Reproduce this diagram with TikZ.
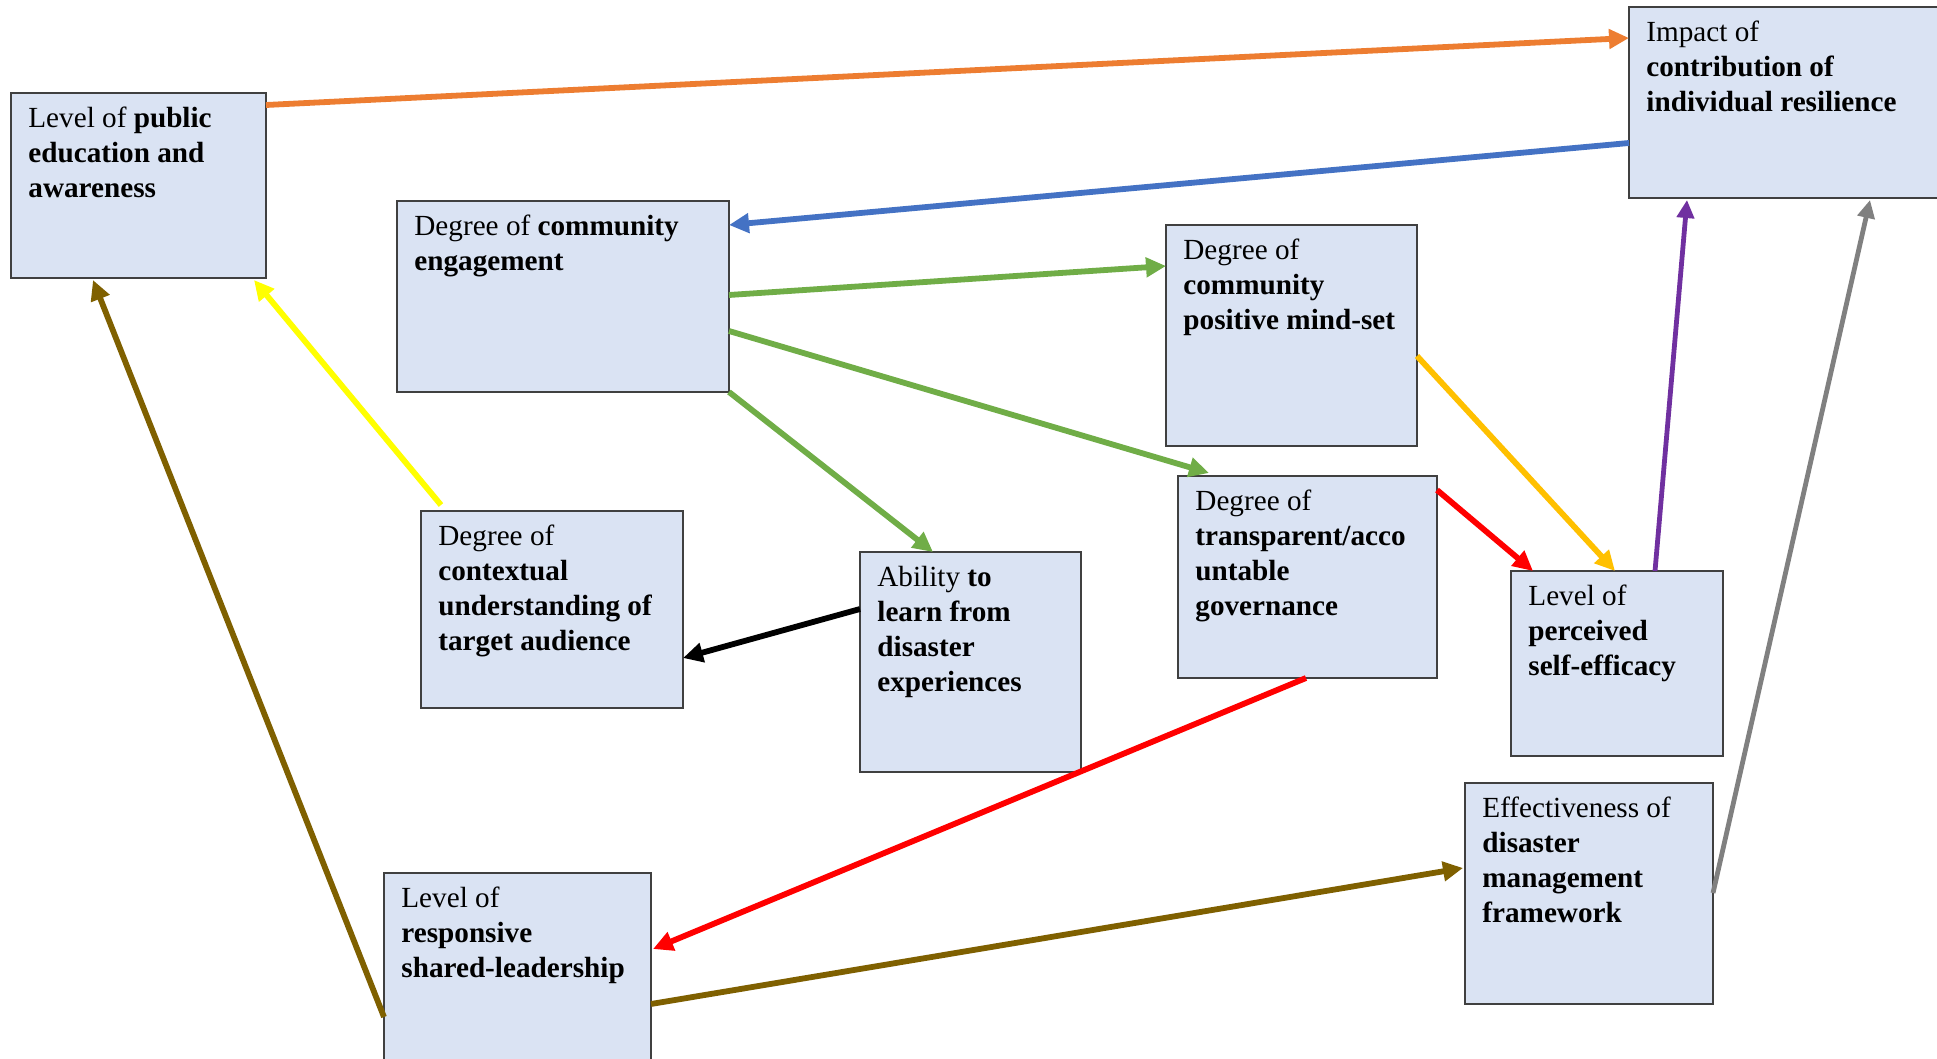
\documentclass[tikz,border=0pt]{standalone}
\usepackage{fontspec}
\setmainfont{Liberation Serif}
\usetikzlibrary{calc,arrows.meta}
\definecolor{boxfill}{HTML}{DAE3F3}
\definecolor{boxline}{HTML}{404040}
\definecolor{corange}{HTML}{ED7D31}
\definecolor{cblue}{HTML}{4472C4}
\definecolor{cgreen}{HTML}{70AD47}
\definecolor{cyellow}{HTML}{FFFF00}
\definecolor{cbrown}{HTML}{7F6000}
\definecolor{cgold}{HTML}{FFC000}
\definecolor{cred}{HTML}{FF0000}
\definecolor{cpurple}{HTML}{7030A0}
\definecolor{cgray}{HTML}{808080}
\begin{document}
\begin{tikzpicture}[x=0.5pt,y=-0.5pt,
  box/.style={draw=boxline, line width=0.8pt, fill=boxfill, inner sep=0pt, outer sep=0pt, anchor=north west},
  lbl/.style={anchor=north west, inner sep=0pt, align=left, font=\fontsize{14.6}{17.6}\selectfont},
  conn/.style={line width=2.9pt, -{Triangle[length=10pt,width=9.5pt]}},
  thinconn/.style={line width=2.4pt, -{Triangle[length=9pt,width=8.5pt]}}]
\useasboundingbox (0,0) rectangle (1937,1059);
\fill[white] (0,0) rectangle (1937,1059);
% boxes
\node[box, minimum width=127.5pt, minimum height=92.5pt] (A) at (11,93) {};
\node[box, minimum width=155.5pt, minimum height=95.5pt] (B) at (1629,7) {};
\node[box, minimum width=166pt, minimum height=95.5pt] (C) at (397,201) {};
\node[box, minimum width=125.5pt, minimum height=110.5pt] (D) at (1166,225) {};
\node[box, minimum width=129.5pt, minimum height=101pt] (E) at (1178,476) {};
\node[box, minimum width=131pt, minimum height=98.5pt] (F) at (421,511) {};
\node[box, minimum width=110.5pt, minimum height=110pt] (G) at (860,552) {};
\node[box, minimum width=106pt, minimum height=92.5pt] (H) at (1511,571) {};
\node[box, minimum width=124pt, minimum height=110.5pt] (I) at (1465,783) {};
\node[box, minimum width=133.5pt, minimum height=97.5pt] (J) at (384,873) {};
% texts
\node[lbl] (At) at ($(A.north west)+(17,9)$) {\strut Level of \textbf{public}\\ \textbf{education and}\\ \textbf{awareness}};
\node[lbl] (Bt) at ($(B.north west)+(17,9)$) {\strut Impact of\\ \textbf{contribution of}\\ \textbf{individual resilience}};
\node[lbl] (Ct) at ($(C.north west)+(17,9)$) {\strut Degree of \textbf{community}\\ \textbf{engagement}};
\node[lbl] (Dt) at ($(D.north west)+(17,9)$) {\strut Degree of\\ \textbf{community}\\ \textbf{positive mind-set}};
\node[lbl] (Et) at ($(E.north west)+(17,9)$) {\strut Degree of\\ \textbf{transparent/acco}\\ \textbf{untable}\\ \textbf{governance}};
\node[lbl] (Ft) at ($(F.north west)+(17,9)$) {\strut Degree of\\ \textbf{contextual}\\ \textbf{understanding of}\\ \textbf{target audience}};
\node[lbl] (Gt) at ($(G.north west)+(17,9)$) {\strut Ability \textbf{to}\\ \textbf{learn from}\\ \textbf{disaster}\\ \textbf{experiences}};
\node[lbl] (Ht) at ($(H.north west)+(17,9)$) {\strut Level of\\ \textbf{perceived}\\ \textbf{self-efficacy}};
\node[lbl] (It) at ($(I.north west)+(17,9)$) {\strut Effectiveness of\\ \textbf{disaster}\\ \textbf{management}\\ \textbf{framework}};
\node[lbl] (Jt) at ($(J.north west)+(17,9)$) {\strut Level of\\ \textbf{responsive}\\ \textbf{shared-leadership}};
% connectors
\draw[conn, corange] ($(A.north east)+(0,12)$) -- ($(B.north west)+(0,31)$);
\draw[conn, cblue] ($(B.north west)+(0,136)$) -- ($(C.north east)+(0,24)$);
\draw[conn, cgreen] ($(C.north east)+(0,94)$) -- ($(D.north west)+(0,41)$);
\draw[conn, cgreen] ($(C.north east)+(0,130)$) -- ($(E.north west)+(31,-3)$);
\draw[conn, cgreen] (C.south east) -- ($(G.north west)+(73,0)$);
\draw[conn, cyellow] ($(F.north west)+(20,-6)$) -- ($(A.south east)+(-12,2)$);
\draw[conn, cbrown] ($(J.north west)+(0,144)$) -- ($(A.south west)+(82,2)$);
\draw[conn, black] ($(G.north west)+(0,57)$) -- ($(F.north east)+(0,147)$);
\draw[conn, cgold] ($(D.north east)+(0,131)$) -- ($(H.north west)+(104,0)$);
\draw[conn, cred] ($(E.north east)+(0,14)$) -- ($(H.north west)+(22,0)$);
\draw[thinconn, cpurple] ($(H.north west)+(144,0)$) -- ($(B.south west)+(58,2)$);
\draw[thinconn, cgray] ($(I.north east)+(0,110)$) -- ($(B.south west)+(241,2)$);
\draw[conn, cred] ($(E.south west)+(128,0)$) -- ($(J.north east)+(2,76)$);
\draw[conn, cbrown] ($(J.north east)+(0,131)$) -- ($(I.north west)+(-2,85)$);
\end{tikzpicture}
\end{document}
